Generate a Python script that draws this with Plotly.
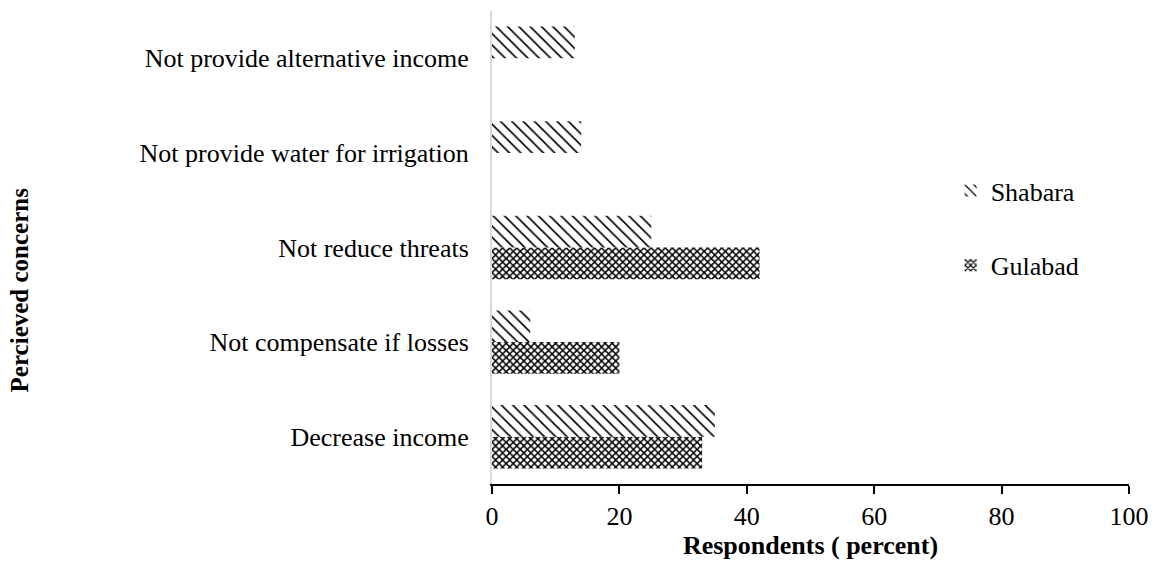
import plotly.graph_objects as go

# Perceived concerns about the intervention, by village (percent of respondents)
concerns = [
    "Decrease income",
    "Not compensate if losses",
    "Not reduce threats",
    "Not provide water for irrigation",
    "Not provide alternative income",
]
gulabad = [33, 20, 42, 0, 0]
shabara = [35, 6, 25, 14, 13]
x_ticks = [0, 20, 40, 60, 80, 100]

FONT = "Liberation Serif, Times New Roman, serif"

fig = go.Figure()

fig.add_trace(go.Bar(
    y=concerns, x=gulabad, name="Gulabad", orientation="h",
    legendgroup="g", legendrank=2,
    marker=dict(
        color="black",
        line=dict(width=0),
        pattern=dict(shape="x", fgcolor="black", fgopacity=1, bgcolor="white",
                     size=5, solidity=0.5, fillmode="replace"),
    ),
))
fig.add_trace(go.Bar(
    y=concerns, x=shabara, name="Shabara", orientation="h",
    legendgroup="s", legendrank=1,
    marker=dict(
        color="black",
        line=dict(width=0),
        pattern=dict(shape="\\", fgcolor="black", fgopacity=1, bgcolor="white",
                     size=8, solidity=0.2, fillmode="replace"),
    ),
))

fig.update_layout(
    width=1162, height=569,
    margin=dict(l=492, r=33, t=11, b=85),
    paper_bgcolor="white", plot_bgcolor="white",
    barmode="group", bargap=0.33, bargroupgap=0,
    font=dict(family=FONT, size=26, color="black"),
    showlegend=True,
    legend=dict(
        x=0.72, y=0.67, xanchor="left", yanchor="top",
        font=dict(family=FONT, size=26, color="black"),
        traceorder="grouped", tracegroupgap=38,
        itemwidth=30, bgcolor="rgba(0,0,0,0)",
    ),
    xaxis=dict(
        range=[0, 100], tickvals=x_ticks, ticktext=[str(v) for v in x_ticks],
        showgrid=False, zeroline=False,
        showline=True, linecolor="black", linewidth=2,
        ticks="outside", ticklen=8, tickwidth=2, tickcolor="black",
        tickfont=dict(family=FONT, size=26, color="black"),
        title=dict(text="<b>Respondents ( percent)</b>",
                   font=dict(family=FONT, size=26, color="black"),
                   standoff=4),
    ),
    yaxis=dict(
        categoryorder="array", categoryarray=concerns,
        showgrid=False, zeroline=False,
        showline=True, linecolor="#d9d9d9", linewidth=2,
        ticks="", ticklabelstandoff=16,
        tickfont=dict(family=FONT, size=26, color="black"),
    ),
    annotations=[dict(
        text="<b>Percieved concerns</b>", textangle=-90,
        xref="paper", yref="paper",
        x=-0.742, y=0.41, xanchor="center", yanchor="middle",
        showarrow=False, font=dict(family=FONT, size=25, color="black"),
    )],
)

fig.write_html("out.html")
